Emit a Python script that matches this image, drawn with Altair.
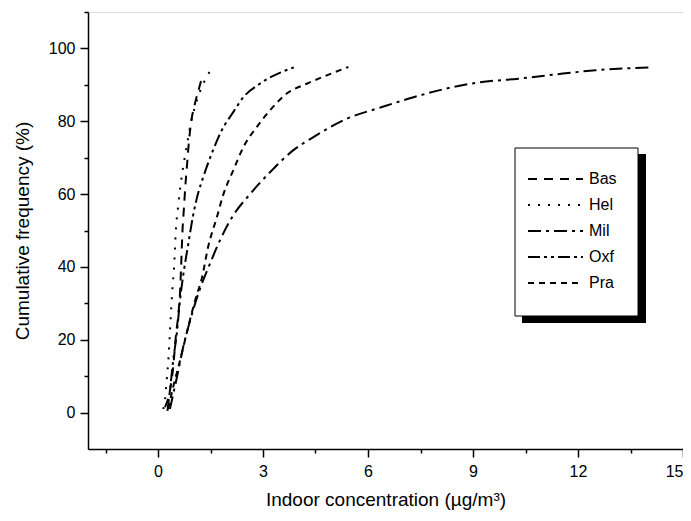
import altair as alt
import pandas as pd

# ---- data ----
series_names = ["Bas", "Hel", "Mil", "Oxf", "Pra"]

bas_x = [0.20, 0.34, 0.44, 0.50, 0.58, 0.63, 0.66, 0.70, 0.74, 0.78, 0.83, 0.88, 0.95, 1.06, 1.20, 1.27]
bas_y = [1.5, 6.0, 13.0, 20.0, 27.0, 33.0, 40.0, 50.0, 56.0, 62.0, 68.0, 74.0, 80.0, 85.0, 90.0, 92.5]

hel_x = [0.15, 0.20, 0.25, 0.30, 0.34, 0.38, 0.42, 0.46, 0.51, 0.58, 0.68, 0.80, 0.95, 1.12, 1.47]
hel_y = [1.0, 3.5, 9.0, 15.0, 22.0, 29.0, 35.0, 40.0, 50.0, 57.0, 65.0, 72.0, 80.0, 86.0, 93.5]

mil_x = [0.34, 0.54, 0.72, 0.91, 1.20, 1.49, 1.77, 2.14, 2.63, 3.20, 3.86, 4.43, 5.40, 6.40, 7.30, 8.25, 9.20, 10.3, 11.3, 12.5, 14.1]
mil_y = [1.0, 9.7, 18.0, 25.0, 34.0, 41.0, 47.3, 54.0, 60.0, 66.0, 72.0, 75.6, 80.7, 83.9, 86.6, 89.0, 90.7, 91.7, 92.8, 94.0, 94.8]

oxf_x = [0.27, 0.34, 0.43, 0.54, 0.63, 0.71, 0.86, 1.00, 1.14, 1.29, 1.53, 1.82, 2.15, 2.44, 2.91, 3.91]
oxf_y = [0.5, 6.0, 14.0, 22.0, 31.0, 37.0, 46.0, 54.0, 60.0, 64.6, 71.0, 77.5, 82.5, 86.6, 90.3, 94.9]

pra_x = [0.29, 0.43, 0.63, 0.86, 1.06, 1.26, 1.43, 1.68, 1.87, 2.15, 2.44, 2.82, 3.20, 3.68, 4.25, 4.82, 5.44]
pra_y = [1.0, 6.9, 14.3, 23.4, 30.8, 37.2, 45.4, 53.6, 60.0, 66.5, 72.9, 78.4, 83.0, 87.6, 90.3, 92.6, 94.9]

x_ticks = [-1.5, 0, 1.5, 3, 4.5, 6, 7.5, 9, 10.5, 12, 13.5, 15]
y_ticks = [0, 10, 20, 30, 40, 50, 60, 70, 80, 90, 100, 110]

dash_styles = [[9, 7], [2, 8], [13, 5, 3, 5], [12, 4, 3, 4, 3, 4], [6, 5]]

rows = []
for name, xs, ys in zip(series_names,
                        [bas_x, hel_x, mil_x, oxf_x, pra_x],
                        [bas_y, hel_y, mil_y, oxf_y, pra_y]):
    for i, (xv, yv) in enumerate(zip(xs, ys)):
        rows.append({"series": name, "conc": xv, "freq": yv, "idx": i})
df = pd.DataFrame(rows)

FONT = "Liberation Sans"

x_axis = alt.Axis(
    values=x_ticks,
    title="Indoor concentration (µg/m³)",
    labelExpr="datum.value % 3 === 0 ? datum.label : ''",
    labelFlush=True,
    tickSize={"condition": {"test": "datum.value % 3 === 0", "value": 8}, "value": 4},
    grid=False,
    domainColor="black", domainWidth=1.5,
    tickColor="black", tickWidth=1.5,
    labelFont=FONT, labelFontSize=16, labelColor="black", labelPadding=6,
    titleFont=FONT, titleFontSize=19, titleFontWeight="normal", titleColor="black",
    titlePadding=11,
)

y_axis = alt.Axis(
    values=y_ticks,
    title="Cumulative frequency (%)",
    labelExpr="datum.value % 20 === 0 && datum.value <= 100 ? datum.label : ''",
    tickSize={"condition": {"test": "datum.value % 20 === 0 && datum.value <= 100", "value": 8}, "value": 4},
    grid=False,
    domainColor="black", domainWidth=1.5,
    tickColor="black", tickWidth=1.5,
    labelFont=FONT, labelFontSize=16, labelColor="black", labelPadding=5,
    titleFont=FONT, titleFontSize=19, titleFontWeight="normal", titleColor="black",
    titlePadding=16,
)

legend = alt.Legend(
    title=None,
    orient="none",
    legendX=439,
    legendY=159,
    symbolType="stroke",
    symbolSize=3025,
    symbolStrokeWidth=2,
    symbolStrokeColor="black",
    clipHeight=16,
    rowPadding=10,
    labelFont=FONT, labelFontSize=16, labelColor="black", labelOffset=5,
    padding=0,
)

lines = alt.Chart(df).mark_line(color="black", strokeWidth=2, interpolate="monotone").encode(
    x=alt.X("conc:Q", scale=alt.Scale(domain=[-2, 15], nice=False, zero=False), axis=x_axis),
    y=alt.Y("freq:Q", scale=alt.Scale(domain=[-10, 110], nice=False, zero=False), axis=y_axis),
    strokeDash=alt.StrokeDash("series:N",
                              scale=alt.Scale(domain=series_names, range=dash_styles),
                              legend=legend),
    order="idx:Q",
)

# legend frame with drop shadow (decoration)
shadow = alt.Chart(pd.DataFrame({"a": [0]})).mark_rect(color="black").encode(
    x=alt.value(434), x2=alt.value(558), y=alt.value(142), y2=alt.value(311)
)
frame = alt.Chart(pd.DataFrame({"a": [0]})).mark_rect(fill="white", stroke="black", strokeWidth=1).encode(
    x=alt.value(427), x2=alt.value(550), y=alt.value(136), y2=alt.value(304)
)

chart = alt.layer(shadow, frame, lines).properties(
    width=595,
    height=437,
    autosize=alt.AutoSizeParams(type="none"),
    padding={"left": 80, "top": 4, "right": 0, "bottom": 63},
).configure_view(stroke=None).configure(background="white")

chart.save("out.html", embed_options={"renderer": "svg", "actions": False})
